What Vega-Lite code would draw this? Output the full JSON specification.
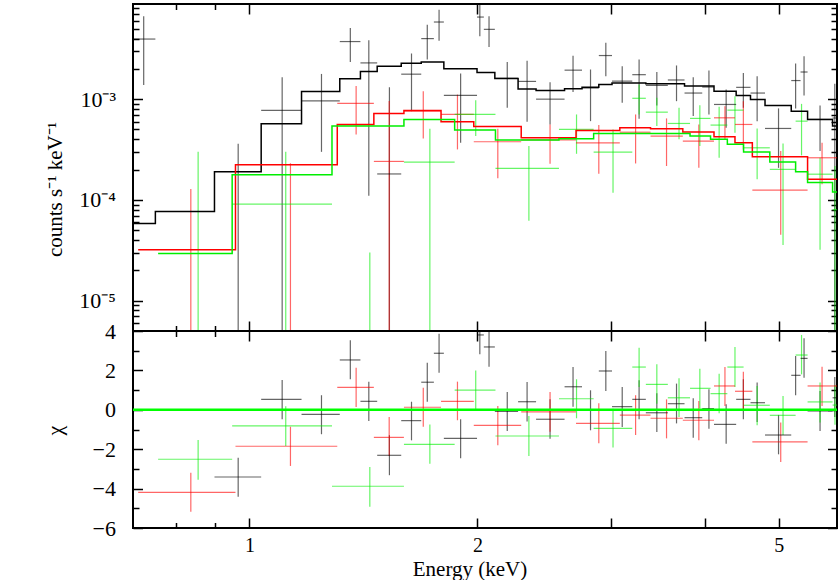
{
"$schema":"https://vega.github.io/schema/vega-lite/v6.json",
"background":"white",
"padding":{"left":42,"top":2,"right":0,"bottom":0},
"autosize":{"type":"pad"},
"config":{"view":{"stroke":"black","strokeWidth":2},"font":"Liberation Serif",
"axis":{"grid":false,"domain":false,"tickColor":"black","tickWidth":1.5,"labelFont":"Liberation Serif","labelFontSize":22,"labelColor":"black","titleFont":"Liberation Serif","titleFontSize":22,"titleColor":"black","titleFontWeight":"normal","labelOverlap":false,"labelFlush":false}},
"datasets":{
"pts":[
{"s":"1","lo":0.7017,"hi":0.7511,"e":0.7249,"v":3.95e-3,"vl":1.38e-3,"vh":6.64e-3,"c":null,"cl":null,"ch":null},
{"s":"1","lo":0.899,"hi":1.0362,"e":0.9662,"v":null,"vl":1e-6,"vh":3.61e-4,"c":-3.41,"cl":-4.41,"ch":-2.43},
{"s":"1","lo":1.0362,"hi":1.1715,"e":1.1045,"v":7.73e-4,"vl":1e-6,"vh":1.65e-3,"c":0.53,"cl":-0.48,"ch":1.51},
{"s":"1","lo":1.1715,"hi":1.316,"e":1.2448,"v":9.6e-4,"vl":3.0e-4,"vh":1.78e-3,"c":-0.23,"cl":-1.24,"ch":0.74},
{"s":"1","lo":1.316,"hi":1.4013,"e":1.3589,"v":3.73e-3,"vl":2.34e-3,"vh":5.08e-3,"c":2.53,"cl":1.55,"ch":3.53},
{"s":"1","lo":1.4013,"hi":1.4746,"e":1.4375,"v":2.29e-3,"vl":1.1e-4,"vh":3.84e-3,"c":0.43,"cl":-0.57,"ch":1.43},
{"s":"1","lo":1.4746,"hi":1.5864,"e":1.5305,"v":1.81e-4,"vl":1e-6,"vh":1.31e-3,"c":-2.31,"cl":-3.32,"ch":-1.29},
{"s":"1","lo":1.5864,"hi":1.686,"e":1.6368,"v":1.77e-3,"vl":7.6e-4,"vh":2.84e-3,"c":-0.55,"cl":-1.55,"ch":0.41},
{"s":"1","lo":1.686,"hi":1.752,"e":1.7172,"v":3.99e-3,"vl":2.47e-3,"vh":5.49e-3,"c":1.4,"cl":0.41,"ch":2.39},
{"s":"1","lo":1.752,"hi":1.806,"e":1.7799,"v":5.83e-3,"vl":3.81e-3,"vh":7.72e-3,"c":2.87,"cl":1.88,"ch":3.86},
{"s":"1","lo":1.806,"hi":1.9977,"e":1.9005,"v":1.09e-3,"vl":3.7e-4,"vh":1.8e-3,"c":-1.45,"cl":-2.46,"ch":-0.48},
{"s":"1","lo":1.9977,"hi":2.0395,"e":2.0148,"v":6.53e-3,"vl":4.2e-3,"vh":8.67e-3,"c":3.8,"cl":2.82,"ch":4.8},
{"s":"1","lo":2.0395,"hi":2.1089,"e":2.072,"v":4.93e-3,"vl":3.3e-3,"vh":6.64e-3,"c":3.19,"cl":2.19,"ch":4.2},
{"s":"1","lo":2.1089,"hi":2.2634,"e":2.19,"v":1.61e-3,"vl":8.2e-4,"vh":2.34e-3,"c":-0.08,"cl":-1.08,"ch":0.9},
{"s":"1","lo":2.2634,"hi":2.3907,"e":2.3262,"v":1.5e-3,"vl":5.96e-4,"vh":2.4e-3,"c":0.41,"cl":-0.6,"ch":1.41},
{"s":"1","lo":2.3907,"hi":2.607,"e":2.4945,"v":1.0e-3,"vl":5.6e-4,"vh":1.47e-3,"c":-0.48,"cl":-1.47,"ch":0.53},
{"s":"1","lo":2.607,"hi":2.7493,"e":2.6751,"v":1.94e-3,"vl":1.18e-3,"vh":2.7e-3,"c":1.17,"cl":0.16,"ch":2.17},
{"s":"1","lo":2.7493,"hi":2.8932,"e":2.8212,"v":1.29e-3,"vl":6.05e-4,"vh":1.97e-3,"c":-0.03,"cl":-1.04,"ch":0.99},
{"s":"1","lo":2.8932,"hi":3.0118,"e":2.9556,"v":2.71e-3,"vl":1.69e-3,"vh":3.64e-3,"c":1.97,"cl":0.95,"ch":2.98},
{"s":"1","lo":3.0118,"hi":3.2033,"e":3.1067,"v":1.51e-3,"vl":9.2e-4,"vh":2.12e-3,"c":0.16,"cl":-0.87,"ch":1.16},
{"s":"1","lo":3.2033,"hi":3.338,"e":3.2703,"v":1.75e-3,"vl":6.4e-4,"vh":2.47e-3,"c":0.53,"cl":-0.48,"ch":1.5},
{"s":"1","lo":3.338,"hi":3.569,"e":3.4516,"v":1.37e-3,"vl":8.65e-4,"vh":1.86e-3,"c":-0.15,"cl":-1.13,"ch":0.84},
{"s":"1","lo":3.569,"hi":3.7548,"e":3.6645,"v":1.55e-3,"vl":9.55e-4,"vh":2.16e-3,"c":0.31,"cl":-0.69,"ch":1.33},
{"s":"1","lo":3.7548,"hi":3.9627,"e":3.8556,"v":1.15e-3,"vl":6.8e-4,"vh":1.65e-3,"c":-0.4,"cl":-1.42,"ch":0.58},
{"s":"1","lo":3.9627,"hi":4.107,"e":4.0442,"v":1.32e-3,"vl":7.05e-4,"vh":1.93e-3,"c":0.06,"cl":-0.96,"ch":1.04},
{"s":"1","lo":4.107,"hi":4.3933,"e":4.2616,"v":8.86e-4,"vl":5.2e-4,"vh":1.25e-3,"c":-0.74,"cl":-1.72,"ch":0.28},
{"s":"1","lo":4.3933,"hi":4.589,"e":4.4904,"v":1.31e-3,"vl":8.2e-4,"vh":1.82e-3,"c":0.53,"cl":-0.48,"ch":1.55},
{"s":"1","lo":4.589,"hi":4.7963,"e":4.6827,"v":1.15e-3,"vl":6.05e-4,"vh":1.69e-3,"c":0.36,"cl":-0.62,"ch":1.38},
{"s":"1","lo":4.7963,"hi":5.1944,"e":4.9975,"v":5.12e-4,"vl":2.08e-4,"vh":8.1e-4,"c":-1.28,"cl":-2.26,"ch":-0.26},
{"s":"1","lo":5.1944,"hi":5.3435,"e":5.264,"v":1.53e-3,"vl":8.1e-4,"vh":2.26e-3,"c":1.75,"cl":0.74,"ch":2.73},
{"s":"1","lo":5.3435,"hi":5.459,"e":5.4007,"v":1.86e-3,"vl":1.09e-3,"vh":2.67e-3,"c":2.61,"cl":1.63,"ch":3.63},
{"s":"1","lo":5.459,"hi":5.89,"e":5.67,"v":6.3e-4,"vl":3.06e-4,"vh":8.66e-4,"c":-0.06,"cl":-1.08,"ch":0.95},
{"s":"1","lo":5.89,"hi":5.998,"e":5.93,"v":6.5e-4,"vl":1e-6,"vh":1.42e-3,"c":0.61,"cl":-0.37,"ch":1.66},
{"s":"2","lo":0.7128,"hi":0.9583,"e":0.8366,"v":null,"vl":1e-6,"vh":1.28e-4,"c":-4.19,"cl":-5.17,"ch":-3.19},
{"s":"2","lo":0.9583,"hi":1.306,"e":1.1327,"v":null,"vl":1e-6,"vh":2.31e-4,"c":-1.85,"cl":-2.85,"ch":-0.86},
{"s":"2","lo":1.306,"hi":1.4597,"e":1.3831,"v":9.07e-4,"vl":4.47e-4,"vh":1.35e-3,"c":1.14,"cl":0.14,"ch":2.14},
{"s":"2","lo":1.4597,"hi":1.5995,"e":1.5294,"v":2.41e-4,"vl":1e-6,"vh":9.6e-4,"c":-1.4,"cl":-2.35,"ch":-0.37},
{"s":"2","lo":1.5995,"hi":1.7906,"e":1.6964,"v":7.6e-4,"vl":4.08e-4,"vh":1.2e-3,"c":0.13,"cl":-0.86,"ch":1.12},
{"s":"2","lo":1.7906,"hi":1.978,"e":1.8823,"v":7.05e-4,"vl":3.17e-4,"vh":1.11e-3,"c":0.43,"cl":-0.53,"ch":1.43},
{"s":"2","lo":1.978,"hi":2.285,"e":2.1281,"v":3.78e-4,"vl":1.64e-4,"vh":5.08e-4,"c":-0.79,"cl":-1.8,"ch":0.19},
{"s":"2","lo":2.285,"hi":2.6996,"e":2.4945,"v":3.95e-4,"vl":2.28e-4,"vh":5.61e-4,"c":-0.11,"cl":-1.11,"ch":0.9},
{"s":"2","lo":2.6996,"hi":3.0841,"e":2.8932,"v":3.69e-4,"vl":1.82e-4,"vh":5.53e-4,"c":-0.69,"cl":-1.7,"ch":0.33},
{"s":"2","lo":3.0841,"hi":3.386,"e":3.2357,"v":4.7e-4,"vl":2.3e-4,"vh":7.05e-4,"c":-0.27,"cl":-1.28,"ch":0.74},
{"s":"2","lo":3.386,"hi":3.7354,"e":3.5549,"v":4.3e-4,"vl":2.17e-4,"vh":6.44e-4,"c":-0.43,"cl":-1.45,"ch":0.53},
{"s":"2","lo":3.7354,"hi":4.107,"e":3.9219,"v":3.84e-4,"vl":2.08e-4,"vh":5.6e-4,"c":-0.53,"cl":-1.55,"ch":0.45},
{"s":"2","lo":4.107,"hi":4.3775,"e":4.246,"v":6.53e-4,"vl":4.0e-4,"vh":8.5e-4,"c":1.21,"cl":0.19,"ch":2.17},
{"s":"2","lo":4.3775,"hi":4.6149,"e":4.4904,"v":5.61e-4,"vl":3.17e-4,"vh":9.55e-4,"c":0.94,"cl":-0.06,"ch":1.93},
{"s":"2","lo":4.6149,"hi":5.459,"e":5.031,"v":1.25e-4,"vl":4.5e-5,"vh":3.05e-4,"c":-1.63,"cl":-2.65,"ch":-0.65},
{"s":"2","lo":5.459,"hi":5.998,"e":5.7047,"v":2.62e-4,"vl":1.43e-4,"vh":3.69e-4,"c":1.21,"cl":0.19,"ch":2.19},
{"s":"3","lo":0.7574,"hi":0.9487,"e":0.8554,"v":null,"vl":1e-6,"vh":3.0e-4,"c":-2.51,"cl":-3.55,"ch":-1.53},
{"s":"3","lo":0.9487,"hi":1.2852,"e":1.1166,"v":9.07e-5,"vl":1e-6,"vh":3.0e-4,"c":-0.82,"cl":-1.84,"ch":0.18},
{"s":"3","lo":1.2852,"hi":1.5995,"e":1.4419,"v":null,"vl":1e-6,"vh":3.0e-5,"c":-3.88,"cl":-4.92,"ch":-2.9},
{"s":"3","lo":1.5995,"hi":1.8663,"e":1.7308,"v":2.37e-4,"vl":1e-6,"vh":5.08e-4,"c":-1.75,"cl":-2.74,"ch":-0.74},
{"s":"3","lo":1.8663,"hi":2.113,"e":1.9898,"v":7.05e-4,"vl":4.3e-4,"vh":9.78e-4,"c":1.0,"cl":-0.01,"ch":2.0},
{"s":"3","lo":2.113,"hi":2.563,"e":2.339,"v":2.06e-4,"vl":6.2e-5,"vh":3.43e-4,"c":-1.33,"cl":-2.35,"ch":-0.31},
{"s":"3","lo":2.563,"hi":2.848,"e":2.7037,"v":5.01e-4,"vl":2.87e-4,"vh":7.05e-4,"c":0.56,"cl":-0.43,"ch":1.55},
{"s":"3","lo":2.848,"hi":3.2033,"e":3.021,"v":2.98e-4,"vl":1.18e-4,"vh":5.01e-4,"c":-0.94,"cl":-1.92,"ch":0.05},
{"s":"3","lo":3.2033,"hi":3.338,"e":3.2703,"v":1.02e-3,"vl":7.05e-4,"vh":1.4e-3,"c":2.17,"cl":1.16,"ch":3.15},
{"s":"3","lo":3.338,"hi":3.569,"e":3.4516,"v":7.43e-4,"vl":5.41e-4,"vh":1.03e-3,"c":1.29,"cl":0.31,"ch":2.31},
{"s":"3","lo":3.569,"hi":3.8183,"e":3.6925,"v":5.74e-4,"vl":4.0e-4,"vh":8.2e-4,"c":0.61,"cl":-0.37,"ch":1.6},
{"s":"3","lo":3.8183,"hi":4.064,"e":3.9339,"v":6.44e-4,"vl":3.43e-4,"vh":8.72e-4,"c":1.09,"cl":0.08,"ch":2.09},
{"s":"3","lo":4.064,"hi":4.2772,"e":4.1717,"v":5.53e-4,"vl":2.62e-4,"vh":8.4e-4,"c":0.82,"cl":-0.18,"ch":1.83},
{"s":"3","lo":4.2772,"hi":4.4935,"e":4.3775,"v":7.78e-4,"vl":4.64e-4,"vh":1.07e-3,"c":2.17,"cl":1.16,"ch":3.19},
{"s":"3","lo":4.4935,"hi":4.8668,"e":4.6827,"v":3.29e-4,"vl":1.6e-4,"vh":5.12e-4,"c":0.23,"cl":-0.79,"ch":1.21},
{"s":"3","lo":4.8668,"hi":5.264,"e":5.0663,"v":2.01e-4,"vl":3.57e-5,"vh":3.64e-4,"c":-0.28,"cl":-1.28,"ch":0.7},
{"s":"3","lo":5.264,"hi":5.459,"e":5.3598,"v":6.05e-4,"vl":2.77e-4,"vh":8.98e-4,"c":2.78,"cl":1.8,"ch":3.8},
{"s":"3","lo":5.459,"hi":5.89,"e":5.67,"v":1.8e-4,"vl":3.2e-5,"vh":2.62e-4,"c":0.4,"cl":-0.65,"ch":1.38},
{"s":"3","lo":5.89,"hi":5.998,"e":5.9336,"v":8e-5,"vl":1e-6,"vh":2.17e-4,"c":0.24,"cl":-0.76,"ch":1.24}
],
"mod":[
{"s":"1","e":0.7017,"v":5.83e-5},{"s":"1","e":0.7511,"v":7.66e-5},{"s":"1","e":0.899,"v":1.9e-4},{"s":"1","e":1.0362,"v":5.69e-4},{"s":"1","e":1.1715,"v":1.19e-3},{"s":"1","e":1.316,"v":1.59e-3},{"s":"1","e":1.4013,"v":1.88e-3},{"s":"1","e":1.4746,"v":2.12e-3},{"s":"1","e":1.5864,"v":2.27e-3},{"s":"1","e":1.686,"v":2.34e-3},{"s":"1","e":1.806,"v":2.0e-3},{"s":"1","e":1.9977,"v":1.84e-3},{"s":"1","e":2.1089,"v":1.6e-3},{"s":"1","e":2.2634,"v":1.26e-3},{"s":"1","e":2.3907,"v":1.22e-3},{"s":"1","e":2.607,"v":1.27e-3},{"s":"1","e":2.7493,"v":1.31e-3},{"s":"1","e":2.8932,"v":1.4e-3},{"s":"1","e":3.0118,"v":1.45e-3},{"s":"1","e":3.338,"v":1.42e-3},{"s":"1","e":3.7548,"v":1.35e-3},{"s":"1","e":4.107,"v":1.2e-3},{"s":"1","e":4.3933,"v":1.09e-3},{"s":"1","e":4.589,"v":9.93e-4},{"s":"1","e":4.7963,"v":8.66e-4},{"s":"1","e":5.1944,"v":7.6e-4},{"s":"1","e":5.459,"v":6.29e-4},{"s":"1","e":5.89,"v":5.4e-4},{"s":"1","e":5.97,"v":5.4e-4},
{"s":"2","e":0.7128,"v":3.2e-5},{"s":"2","e":0.9583,"v":2.24e-4},{"s":"2","e":1.306,"v":5.61e-4},{"s":"2","e":1.4597,"v":7.22e-4},{"s":"2","e":1.5995,"v":7.73e-4},{"s":"2","e":1.7906,"v":5.96e-4},{"s":"2","e":1.978,"v":5.36e-4},{"s":"2","e":2.285,"v":4.14e-4},{"s":"2","e":2.6996,"v":4.9e-4},{"s":"2","e":3.0841,"v":5.2e-4},{"s":"2","e":3.386,"v":5.08e-4},{"s":"2","e":3.7354,"v":4.71e-4},{"s":"2","e":4.107,"v":4.23e-4},{"s":"2","e":4.3775,"v":3.69e-4},{"s":"2","e":4.6149,"v":2.68e-4},{"s":"2","e":5.459,"v":1.6e-4},{"s":"2","e":5.97,"v":1.6e-4},
{"s":"3","e":0.7574,"v":2.94e-5},{"s":"3","e":0.9487,"v":1.78e-4},{"s":"3","e":1.2852,"v":5.41e-4},{"s":"3","e":1.5995,"v":6.29e-4},{"s":"3","e":1.8663,"v":4.93e-4},{"s":"3","e":2.113,"v":3.93e-4},{"s":"3","e":2.563,"v":4.05e-4},{"s":"3","e":2.848,"v":4.57e-4},{"s":"3","e":3.8183,"v":4.3e-4},{"s":"3","e":4.064,"v":4.0e-4},{"s":"3","e":4.2772,"v":3.56e-4},{"s":"3","e":4.4935,"v":2.99e-4},{"s":"3","e":4.8668,"v":2.38e-4},{"s":"3","e":5.264,"v":1.9e-4},{"s":"3","e":5.459,"v":1.49e-4},{"s":"3","e":5.89,"v":1.2e-4},{"s":"3","e":5.97,"v":1.2e-4}
],
"zero":[{"chi":0}]
},
"vconcat":[
{"width":704,"height":327,
"resolve":{"axis":{"x":"independent","y":"independent"}},
"layer":[
{"data":{"name":"pts"},"mark":{"type":"rule","clip":true,"opacity":0.6,"strokeWidth":1.2},
"encoding":{
"x":{"field":"e","type":"quantitative","scale":{"type":"log","domain":[0.7017,5.97],"nice":false},"axis":{"orient":"bottom","values":[1,2,3,4,5],"tickSize":-10,"labels":false,"title":null}},
"y":{"field":"vl","type":"quantitative","scale":{"type":"log","domain":[5e-6,8.8e-3],"nice":false},"axis":{"orient":"left","values":[1e-5,1e-4,1e-3],"tickSize":-9.5,"labelPadding":27,"labelBaseline":"middle","labelExpr":"datum.value < 3e-5 ? '10⁻⁵' : datum.value < 3e-4 ? '10⁻⁴' : '10⁻³'","title":"counts s⁻¹ keV⁻¹","titleFontSize":21,"titleX":-71.5,"titleY":185,"titleAngle":-90,"titleBaseline":"alphabetic","titleAlign":"center"}},
"y2":{"field":"vh"},
"color":{"field":"s","type":"nominal","scale":{"domain":["1","2","3"],"range":["#000000","#ff0000","#00ee00"]},"legend":null}}},
{"data":{"name":"pts"},"mark":{"type":"rule","clip":true,"opacity":0.6,"strokeWidth":1.2},
"encoding":{
"x":{"field":"lo","type":"quantitative","scale":{"type":"log","domain":[0.7017,5.97],"nice":false},"axis":{"orient":"bottom","values":[0.8,0.9],"tickSize":-5.5,"labels":false,"title":null}},
"x2":{"field":"hi"},
"y":{"field":"v","type":"quantitative","scale":{"type":"log","domain":[5e-6,8.8e-3],"nice":false},"axis":{"orient":"left","values":[6e-6,7e-6,8e-6,9e-6,2e-5,3e-5,4e-5,5e-5,6e-5,7e-5,8e-5,9e-5,2e-4,3e-4,4e-4,5e-4,6e-4,7e-4,8e-4,9e-4,2e-3,3e-3,4e-3,5e-3,6e-3,7e-3,8e-3],"tickSize":-6,"labels":false,"title":null}},
"color":{"field":"s","type":"nominal","scale":{"domain":["1","2","3"],"range":["#000000","#ff0000","#00ee00"]},"legend":null}}},
{"data":{"name":"mod"},"transform":[{"filter":"datum.s == '1'"}],"mark":{"type":"line","interpolate":"step-after","clip":true,"strokeWidth":1.5},
"encoding":{
"x":{"field":"e","type":"quantitative","scale":{"type":"log","domain":[0.7017,5.97],"nice":false},"axis":{"orient":"top","values":[1,2,3,4,5],"tickSize":-10,"labels":false,"title":null}},
"y":{"field":"v","type":"quantitative","scale":{"type":"log","domain":[5e-6,8.8e-3],"nice":false},"axis":{"orient":"right","values":[1e-5,1e-4,1e-3],"tickSize":-9.5,"labels":false,"title":null}},
"color":{"field":"s","type":"nominal","scale":{"domain":["1","2","3"],"range":["#000000","#ff0000","#00ee00"]},"legend":null}}},
{"data":{"name":"mod"},"transform":[{"filter":"datum.s != '1'"}],"mark":{"type":"line","interpolate":"step-after","clip":true,"strokeWidth":1.5},
"encoding":{
"x":{"field":"e","type":"quantitative","scale":{"type":"log","domain":[0.7017,5.97],"nice":false},"axis":{"orient":"top","values":[0.8,0.9],"tickSize":-5.5,"labels":false,"title":null}},
"y":{"field":"v","type":"quantitative","scale":{"type":"log","domain":[5e-6,8.8e-3],"nice":false},"axis":{"orient":"right","values":[6e-6,7e-6,8e-6,9e-6,2e-5,3e-5,4e-5,5e-5,6e-5,7e-5,8e-5,9e-5,2e-4,3e-4,4e-4,5e-4,6e-4,7e-4,8e-4,9e-4,2e-3,3e-3,4e-3,5e-3,6e-3,7e-3,8e-3],"tickSize":-6,"labels":false,"title":null}},
"color":{"field":"s","type":"nominal","scale":{"domain":["1","2","3"],"range":["#000000","#ff0000","#00ee00"]},"legend":null}}}
]},
{"width":704,"height":197,
"resolve":{"axis":{"x":"independent","y":"independent"}},
"layer":[
{"data":{"name":"pts"},"mark":{"type":"rule","clip":true,"opacity":0.6,"strokeWidth":1.2},
"encoding":{
"x":{"field":"e","type":"quantitative","scale":{"type":"log","domain":[0.7017,5.97],"nice":false},"axis":{"orient":"bottom","values":[1,2,3,4,5],"tickSize":-10,"labelPadding":17,"labelFontSize":20,"labelExpr":"datum.value == 3 || datum.value == 4 ? '' : datum.label","title":"Energy (keV)","titleFontSize":21,"titleX":336.5,"titleY":47,"titleBaseline":"alphabetic","titleAlign":"center"}},
"y":{"field":"cl","type":"quantitative","scale":{"domain":[-6,4],"nice":false,"zero":false},"axis":{"orient":"left","values":[-6,-4,-2,0,2,4],"tickSize":-9.5,"labelPadding":27,"labelBaseline":"middle","title":"χ","titleX":-71.5,"titleY":99,"titleAngle":-90,"titleBaseline":"alphabetic","titleAlign":"center"}},
"y2":{"field":"ch"},
"color":{"field":"s","type":"nominal","scale":{"domain":["1","2","3"],"range":["#000000","#ff0000","#00ee00"]},"legend":null}}},
{"data":{"name":"pts"},"transform":[{"filter":"datum.s == '1'"}],"mark":{"type":"rule","clip":true,"opacity":0.6,"strokeWidth":1.2},
"encoding":{
"x":{"field":"lo","type":"quantitative","scale":{"type":"log","domain":[0.7017,5.97],"nice":false},"axis":{"orient":"bottom","values":[0.8,0.9],"tickSize":-5.5,"labels":false,"title":null}},
"x2":{"field":"hi"},
"y":{"field":"c","type":"quantitative","scale":{"domain":[-6,4],"nice":false,"zero":false},"axis":{"orient":"left","values":[-5,-3,-1,1,3],"tickSize":-6,"labels":false,"title":null}},
"color":{"field":"s","type":"nominal","scale":{"domain":["1","2","3"],"range":["#000000","#ff0000","#00ee00"]},"legend":null}}},
{"data":{"name":"pts"},"transform":[{"filter":"datum.s != '1'"}],"mark":{"type":"rule","clip":true,"opacity":0.6,"strokeWidth":1.2},
"encoding":{
"x":{"field":"lo","type":"quantitative","scale":{"type":"log","domain":[0.7017,5.97],"nice":false},"axis":{"orient":"top","values":[1,2,3,4,5],"tickSize":-10,"labels":false,"title":null}},
"x2":{"field":"hi"},
"y":{"field":"c","type":"quantitative","scale":{"domain":[-6,4],"nice":false,"zero":false},"axis":{"orient":"right","values":[-6,-4,-2,0,2,4],"tickSize":-9.5,"labels":false,"title":null}},
"color":{"field":"s","type":"nominal","scale":{"domain":["1","2","3"],"range":["#000000","#ff0000","#00ee00"]},"legend":null}}},
{"data":{"name":"zero"},"mark":{"type":"rule","clip":true,"color":"#00ff00","strokeWidth":2.5},
"encoding":{
"x":{"datum":0.7017,"type":"quantitative","scale":{"type":"log","domain":[0.7017,5.97],"nice":false},"axis":{"orient":"top","values":[0.8,0.9],"tickSize":-5.5,"labels":false,"title":null}},
"x2":{"datum":5.97},
"y":{"field":"chi","type":"quantitative","scale":{"domain":[-6,4],"nice":false,"zero":false},"axis":{"orient":"right","values":[-5,-3,-1,1,3],"tickSize":-6,"labels":false,"title":null}}}}
]}
],
"spacing":0,
"bounds":"flush"
}
